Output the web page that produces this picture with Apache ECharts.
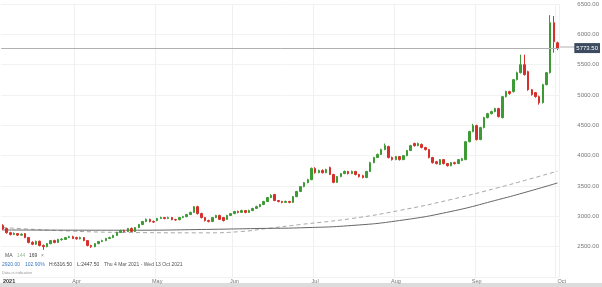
<!DOCTYPE html>
<html><head><meta charset="utf-8">
<script src="https://cdn.jsdelivr.net/npm/echarts@6/dist/echarts.min.js"></script>
<style>html,body{margin:0;padding:0;background:#fff}#c{width:602px;height:287px}</style>
</head><body><div id="c"></div>
<script>
// Trading-day categories, 4 Mar 2021 - 1 Oct 2021 (weekdays)
const startDate = '2021-03-04', endDate = '2021-10-01';
const categories = [];
for (let t = Date.parse(startDate); t <= Date.parse(endDate); t += 86400000) {
  const d = new Date(t), w = d.getUTCDay();
  if (w !== 0 && w !== 6) categories.push(d.toISOString().slice(0, 10));
}
const tickLabels = ['2021', 'Apr', 'May', 'Jun', 'Jul', 'Aug', 'Sep', 'Oct'];

// [open, close, low, high]
const ohlc = [
[2850,2790,2770,2870],[2800,2730,2715,2810],[2730,2700,2685,2745],[2700,2720,2690,2735],[2715,2690,2675,2725],
[2690,2705,2680,2720],[2715,2650,2640,2725],[2650,2570,2555,2660],[2570,2540,2525,2590],[2540,2585,2530,2600],
[2590,2520,2505,2600],[2520,2500,2447.5,2535],[2500,2550,2490,2560],[2550,2600,2540,2610],[2600,2570,2555,2615],
[2570,2620,2560,2630],[2615,2625,2600,2640],[2620,2650,2610,2660],[2650,2665,2640,2680],[2665,2635,2625,2680],
[2650,2630,2615,2665],[2630,2650,2620,2665],[2650,2600,2590,2660],[2600,2520,2505,2610],[2520,2500,2480,2530],
[2500,2550,2490,2560],[2550,2585,2540,2595],[2585,2600,2575,2615],[2600,2635,2590,2645],[2635,2650,2625,2665],
[2650,2685,2640,2695],[2685,2735,2675,2745],[2735,2765,2725,2780],[2765,2750,2735,2780],[2750,2800,2740,2810],
[2800,2750,2740,2815],[2750,2815,2740,2825],[2815,2865,2805,2875],[2865,2915,2855,2925],[2915,2950,2905,2965],
[2950,2915,2900,2960],[2915,2905,2890,2930],[2930,2965,2920,2975],[2965,2980,2955,2995],[2980,2965,2950,2990],
[2965,2980,2955,2995],[2980,2945,2935,2990],[2945,2940,2925,2960],[2945,2980,2935,2990],[2980,2995,2970,3010],
[2995,3030,2985,3040],[3030,3065,3020,3075],[3065,3160,3055,3170],[3160,3045,3030,3175],[3045,2980,2965,3060],
[2980,2930,2915,2990],[2930,2915,2900,2945],[2915,2980,2905,2990],[2980,3015,2970,3025],[3015,2950,2940,3025],
[2980,2930,2915,2990],[2950,3015,2940,3025],[3015,3045,3005,3055],[3045,3080,3035,3090],[3080,3065,3050,3095],
[3065,3095,3055,3110],[3095,3065,3050,3105],[3065,3095,3055,3110],[3095,3130,3085,3140],[3130,3160,3120,3175],
[3160,3195,3150,3205],[3195,3245,3185,3255],[3245,3310,3235,3320],[3310,3345,3300,3365],[3360,3260,3250,3370],
[3260,3245,3230,3270],[3245,3230,3215,3255],[3230,3245,3220,3260],[3245,3230,3215,3255],[3230,3325,3220,3335],
[3325,3410,3315,3420],[3410,3490,3400,3500],[3490,3555,3480,3565],[3555,3605,3545,3620],[3605,3790,3595,3805],
[3790,3720,3705,3810],[3720,3755,3710,3770],[3755,3720,3705,3775],[3720,3770,3710,3785],[3805,3690,3680,3820],
[3690,3560,3545,3700],[3560,3655,3550,3665],[3655,3705,3645,3715],[3705,3740,3695,3755],[3740,3705,3690,3750],
[3705,3740,3695,3755],[3740,3690,3675,3750],[3690,3655,3640,3700],[3670,3640,3625,3685],[3640,3740,3630,3750],
[3740,3885,3730,3900],[3885,3970,3875,3980],[3970,4020,3960,4035],[4020,4100,4010,4115],[4100,4165,4090,4200],
[4150,3970,3955,4165],[3970,3935,3920,3985],[3935,3985,3925,3995],[3985,3935,3920,3995],[3935,4000,3925,4010],
[4000,4085,3990,4095],[4085,4165,4075,4180],[4200,4165,4150,4215],[4165,4200,4155,4215],[4185,4135,4120,4200],
[4135,4100,4085,4145],[4100,3970,3955,4110],[3970,3885,3870,3980],[3900,3870,3855,3915],[3855,3935,3845,3945],
[3935,3870,3855,3945],[3870,3835,3820,3880],[3835,3885,3825,3895],[3885,3870,3855,3900],[3870,3935,3860,3945],
[3920,3950,3910,3965],[3935,4230,3925,4240],[4230,4397,4220,4410],[4397,4496,4385,4525],[4496,4265,4250,4510],
[4265,4463,4255,4475],[4463,4627,4450,4640],[4627,4693,4615,4705],[4693,4726,4680,4740],[4726,4776,4715,4790],
[4776,4644,4630,4790],[4627,4973,4615,4985],[4973,5056,4960,5070],[5056,5023,5005,5070],[5056,5253,5040,5265],
[5253,5368,5240,5385],[5368,5500,5355,5665],[5500,5336,5320,5665],[5385,5088,5070,5400],[5088,5006,4990,5100],
[5040,4973,4955,5050],[4973,4874,4841,4990],[4874,5171,4860,5185],[5171,5368,5160,5380],[5368,6192,5355,6316.5],
[6192,5879,5698,6300],[5860,5773.5,5740,5880]
];
const lastPrice = 5773.5;

// Moving averages read at sample candles: [candle index, value]
const ma144 = [[0,2816],[15,2766],[35,2733],[55,2728],[65,2750],[72,2800],[81,2865],[95,2964],[108,3097],[122,3277],[135,3475],[143,3607],[151,3745]];
const ma169 = [[0,2775],[35,2771],[54,2783],[70,2800],[81,2811],[95,2849],[108,2931],[122,3080],[135,3277],[143,3409],[151,3550]];

const labelAt = {};
let k = 0;
categories.forEach((d, i) => {
  if (i === 0 || d.slice(5, 7) !== categories[i - 1].slice(5, 7)) labelAt[i] = tickLabels[k++];
});
const showLabel = (i) => labelAt[i] !== undefined;
const showSplit = (i) => i > 0 && labelAt[i] !== undefined;

const FONT = 'Liberation Sans, Arial, sans-serif';
const chart = echarts.init(document.getElementById('c'));
chart.setOption({
  animation: false,
  backgroundColor: '#fff',
  grid: { left: 0, right: 42, top: 4, bottom: 10 },
  xAxis: {
    type: 'category', data: categories, boundaryGap: true,
    axisLine: { show: false }, axisTick: { show: false },
    axisLabel: { interval: showLabel, formatter: (v, i) => i === 0 ? '{y|' + labelAt[i] + '}' : (labelAt[i] || ''),
      fontSize: 5.5, color: '#777', margin: 1, fontFamily: FONT, alignMinLabel: 'left', alignMaxLabel: 'left',
      rich: { y: { fontSize: 5.5, color: '#333', fontWeight: 'bold', fontFamily: FONT } } },
    splitLine: { show: true, interval: showSplit, lineStyle: { color: '#f0f0f0', width: 1 } }
  },
  yAxis: {
    type: 'value', position: 'right', min: 2000, max: 6500, interval: 500,
    axisLine: { show: false }, axisTick: { show: false },
    axisLabel: { showMinLabel: false, formatter: v => v.toFixed(2), fontSize: 6, color: '#777', margin: 18, fontFamily: FONT },
    splitLine: { lineStyle: { color: '#f2f2f2', width: 1 } }
  },
  series: [
    { type: 'line', data: ma144.map(p => [categories[p[0]], p[1]]), symbol: 'none', smooth: true,
      lineStyle: { color: '#a8a8a8', width: 1, type: [4, 3] }, z: 2 },
    { type: 'line', data: ma169.map(p => [categories[p[0]], p[1]]), symbol: 'none', smooth: true,
      lineStyle: { color: '#666', width: 1 }, z: 2 },
    { type: 'candlestick', data: ohlc, barWidth: '55%', z: 3,
      itemStyle: { color: '#3d9a35', color0: '#d5302b', borderColor: '#3d9a35', borderColor0: '#d5302b', borderWidth: 1 },
      markLine: { symbol: 'none', silent: true, data: [{ yAxis: lastPrice }],
        lineStyle: { color: '#b0b0b0', type: 'solid', width: 1 },
        label: { position: 'end', formatter: lastPrice.toFixed(2), backgroundColor: '#3c4b60', color: '#fff',
          fontSize: 6, padding: [2, 2, 2, 2], distance: 15, fontFamily: FONT } } }
  ],
  graphic: [
    { type: 'rect', shape: { x: 559, y: 46.5, width: 16, height: 1 }, style: { fill: '#b0b0b0' } },
    { type: 'rect', shape: { x: 0, y: 283, width: 602, height: 4 }, style: { fill: '#dcdcdc' } },
    { type: 'text', left: 5, top: 253, style: { text: 'MA', fill: '#555', font: '5px ' + FONT } },
    { type: 'text', left: 17, top: 253, style: { text: '144', fill: '#9cb89a', font: '5px ' + FONT } },
    { type: 'text', left: 29, top: 253, style: { text: '169', fill: '#444', font: '5px ' + FONT } },
    { type: 'text', left: 41, top: 253, style: { text: '×', fill: '#888', font: '5px ' + FONT } },
    { type: 'text', left: 2, top: 262, style: { text: '2920.00', fill: '#3a78c0', font: '5px ' + FONT } },
    { type: 'text', left: 25, top: 262, style: { text: '102.90%', fill: '#3a78c0', font: '5px ' + FONT } },
    { type: 'text', left: 49, top: 262, style: { text: 'H:6316.50', fill: '#444', font: '5px ' + FONT } },
    { type: 'text', left: 77, top: 262, style: { text: 'L:2447.50', fill: '#444', font: '5px ' + FONT } },
    { type: 'text', left: 104, top: 262, style: { text: 'Thu 4 Mar 2021 - Wed 13 Oct 2021', fill: '#555', font: '5px ' + FONT } },
    { type: 'text', left: 2, top: 271, style: { text: 'Data is indicative', fill: '#999', font: '4px ' + FONT } }
  ]
});
</script></body></html>
